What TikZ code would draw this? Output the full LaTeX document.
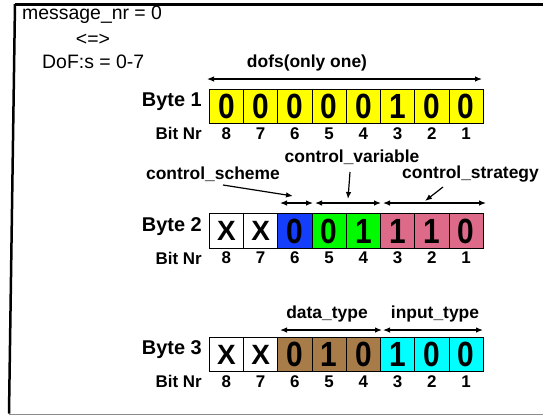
\documentclass[tikz,border=0pt]{standalone}
\usepackage{fontspec}
\setmainfont{Liberation Sans}
\usetikzlibrary{arrows.meta}
\definecolor{cyel}{RGB}{255,255,0}
\definecolor{cblue}{RGB}{20,62,250}
\definecolor{cgreen}{RGB}{0,250,0}
\definecolor{cpink}{RGB}{220,106,136}
\definecolor{cbrown}{RGB}{168,124,72}
\definecolor{ccyan}{RGB}{0,255,255}
\definecolor{cgrayline}{RGB}{140,140,140}
\newcommand\dg[1]{\scalebox{1}[1.17]{#1}}
\newcommand\xx{{\fontsize{28}{28}\selectfont X}}
\begin{document}
\begin{tikzpicture}[x=1bp,y=-1bp,
  bitbox/.style={draw=black, line width=0.8bp, minimum width=34.25bp, minimum height=34.5bp, inner sep=0pt, font=\bfseries\fontsize{30}{30}\selectfont},
  bitnum/.style={font=\bfseries\fontsize{17}{17}\selectfont, inner sep=0pt},
  rowlbl/.style={font=\bfseries\fontsize{20}{20}\selectfont, anchor=east, inner sep=0pt},
  nrlbl/.style={font=\bfseries\fontsize{17}{17}\selectfont, anchor=east, inner sep=0pt},
  fieldlbl/.style={font=\bfseries\fontsize{17.5}{17.5}\selectfont, inner sep=0pt},
  plain/.style={font=\fontsize{19.5}{19.5}\selectfont, inner sep=0pt},
  dbl/.style={{Latex[length=7bp,width=5.5bp]}-{Latex[length=7bp,width=5.5bp]}, line width=1.2bp},
  ptr/.style={-{Latex[length=7bp,width=5.5bp]}, line width=1.2bp}]
\useasboundingbox (0,0) rectangle (543,415);
% frame
\draw[line width=3bp] (15,4) -- (543,4);
\draw[line width=2.5bp] (15,4) -- (9,413.5);
\draw[cgrayline, line width=1bp] (9,414) -- (543,414);
% top-left text
\node[plain, anchor=west] (msg) at (22,15) {message\_nr = 0};
\node[plain] (eqv) at (93,40) {<=>};
\node[plain, anchor=west] (dof) at (42,62) {DoF:s = 0-7};
% row 1
\foreach \v [count=\k from 0] in {0,0,0,0,0,1,0,0}
  \node[bitbox, fill=cyel] (a\k) at ({209.3+(\k+0.5)*34.25},106.5) {\dg{\v}};
% row 2
\foreach \v/\c [count=\k from 0] in {\xx/white,\xx/white,\dg{0}/cblue,\dg{0}/cgreen,\dg{1}/cgreen,\dg{1}/cpink,\dg{1}/cpink,\dg{0}/cpink}
  \node[bitbox, fill=\c] (b\k) at ({209.3+(\k+0.5)*34.25},231) {\v};
% row 3
\foreach \v/\c [count=\k from 0] in {\xx/white,\xx/white,\dg{0}/cbrown,\dg{1}/cbrown,\dg{0}/cbrown,\dg{1}/ccyan,\dg{0}/ccyan,\dg{0}/ccyan}
  \node[bitbox, fill=\c] (c\k) at ({209.3+(\k+0.5)*34.25},354.5) {\v};
% bit numbers
\foreach \n [count=\k from 0] in {8,7,6,5,4,3,2,1} {
  \node[bitnum] (na\k) at ({209.3+(\k+0.5)*34.25},133.5) {\n};
  \node[bitnum] (nb\k) at ({209.3+(\k+0.5)*34.25},258) {\n};
  \node[bitnum] (nc\k) at ({209.3+(\k+0.5)*34.25},381.5) {\n};
}
% row labels
\node[rowlbl] (byte1) at (202,102) {Byte 1};
\node[nrlbl] (bitnr1) at (202,133.5) {Bit Nr};
\node[rowlbl] (byte2) at (202,226.5) {Byte 2};
\node[nrlbl] (bitnr2) at (202,258) {Bit Nr};
\node[rowlbl] (byte3) at (202,350) {Byte 3};
\node[nrlbl] (bitnr3) at (202,381.5) {Bit Nr};
% byte 1 field
\node[fieldlbl] (dofs) at (307,63) {dofs(only one)};
\coordinate (d1) at (207,79);
\coordinate (d2) at (482,79);
\draw[dbl] (d1) -- (d2);
% byte 2 fields
\coordinate (s1) at (280,203);
\coordinate (s2) at (313,203);
\coordinate (v1) at (315,203);
\coordinate (v2) at (381,203);
\coordinate (t1) at (383,203);
\coordinate (t2) at (486,203);
\draw[dbl] (s1) -- (s2);
\draw[dbl] (v1) -- (v2);
\draw[dbl] (t1) -- (t2);
\node[fieldlbl] (cscheme) at (213,174) {control\_scheme};
\node[fieldlbl] (cvar) at (352,157) {control\_variable};
\node[fieldlbl, anchor=west] (cstrat) at (402,174) {control\_strategy};
\coordinate (ss) at (223,185);
\coordinate (sp) at (293,196);
\coordinate (vs) at (350,172);
\coordinate (vp) at (348,199);
\coordinate (ts) at (443,187);
\coordinate (tp) at (425,201);
\draw[ptr] (ss) -- (sp);
\draw[ptr] (vs) -- (vp);
\draw[ptr] (ts) -- (tp);
% byte 3 fields
\node[fieldlbl] (dtype) at (327,314) {data\_type};
\node[fieldlbl] (itype) at (435,314) {input\_type};
\coordinate (e1) at (280,330);
\coordinate (e2) at (382,330);
\coordinate (f1) at (383,330);
\coordinate (f2) at (483,330);
\draw[dbl] (e1) -- (e2);
\draw[dbl] (f1) -- (f2);
\end{tikzpicture}
\end{document}
